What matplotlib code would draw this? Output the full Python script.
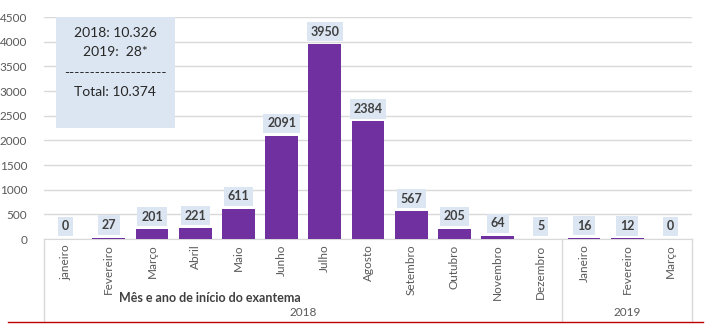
import matplotlib
matplotlib.use("Agg")
import matplotlib.pyplot as plt
from matplotlib.patches import Rectangle
from matplotlib.lines import Line2D

months = ["janeiro", "Fevereiro", "Março", "Abril", "Maio", "Junho", "Julho",
          "Agosto", "Setembro", "Outubro", "Novembro", "Dezembro",
          "Janeiro", "Fevereiro", "Março"]
values = [0, 27, 201, 221, 611, 2091, 3950, 2384, 567, 205, 64, 5, 16, 12, 0]
years = ["2018", "2019"]
year_counts = [12, 3]
summary = ["2018: 10.326", "2019:  28*", "--------------------", "Total: 10.374"]
yticks = [0, 500, 1000, 1500, 2000, 2500, 3000, 3500, 4000, 4500]

plt.rcParams['font.family'] = ['Lato', 'DejaVu Sans']

fig = plt.figure(figsize=(7.23, 3.33), dpi=100)
ax = fig.add_axes([44/723, 1-239/333, (692-44)/723, (239-17)/333])

x = list(range(len(values)))
bars = ax.bar(x, values, width=0.76, color="#7030A0", zorder=3)
ax.set_xlim(-0.5, len(values)-0.5)
ax.set_ylim(0, 4500)
ax.set_yticks(yticks)
ax.set_yticklabels([str(t) for t in yticks], fontsize=8.5, color="#595959")
ax.yaxis.grid(True, color="#D9D9D9", linewidth=1, zorder=0)
ax.set_xticks([])
for s in ["top", "right", "left"]:
    ax.spines[s].set_visible(False)
ax.spines["bottom"].set_color("#D9D9D9")
ax.tick_params(axis="y", length=0, pad=12)

for xi, v in zip(x, values):
    ax.annotate(str(v), (xi, v), xytext=(0, 9), textcoords="offset points",
                ha="center", va="center", fontsize=9, fontweight="bold",
                color="#404040", zorder=5,
                bbox=dict(boxstyle="square,pad=0.3", fc="#DCE6F2", ec="none"))

# summary box
ax.add_patch(Rectangle((-0.22, 2250), 2.75, 2250, facecolor="#DCE6F2",
                       edgecolor="none", zorder=4))
ys = [4170, 3790, 3370, 2980]
for t, yv in zip(summary, ys):
    ax.text(1.15, yv, t, ha="center", va="center", fontsize=10,
            color="#262626", zorder=5)

# category labels below
trans = ax.get_xaxis_transform()
for xi, m in zip(x, months):
    ax.text(xi, -0.025, m, rotation=90, ha="center", va="top",
            fontsize=8.5, color="#595959", transform=trans)

# group separators and year labels
def fy(py):
    return (239 - py) / (239 - 17)

sep_color = "#D9D9D9"
start = -0.5
bounds = [start]
for c in year_counts:
    bounds.append(bounds[-1] + c)
for b in bounds:
    ax.add_line(Line2D([b, b], [0, fy(322)], transform=trans, color=sep_color,
                       linewidth=1, clip_on=False))
for i, yr in enumerate(years):
    cx = (bounds[i] + bounds[i+1]) / 2
    ax.text(cx, fy(313), yr, ha="center", va="center", fontsize=8.5,
            color="#595959", transform=trans)

ax.text(3.35, fy(298), "Mês e ano de início do exantema", ha="center",
        va="center", fontsize=9, fontweight="bold", color="#404040",
        transform=trans)

# red bottom line
fig.add_artist(Line2D([8/723, 703/723], [1-322/333, 1-322/333],
                      color="#C00000", linewidth=1))

fig.savefig("out.png", dpi=100, facecolor="white")
